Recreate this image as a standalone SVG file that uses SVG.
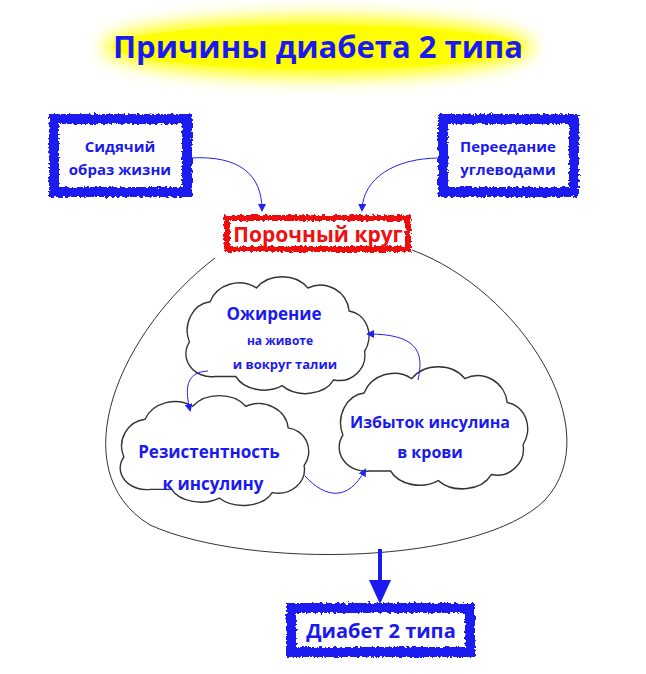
<svg xmlns="http://www.w3.org/2000/svg" width="646" height="674" viewBox="0 0 646 674">
<style>
.t{font-family:"Open Sans","Liberation Sans",sans-serif;font-weight:bold;text-anchor:middle}
.b{fill:#1a1af0}
.box{fill:#fff;stroke-width:10;filter:url(#rough)}
.cl{fill:#fff;stroke:#333;stroke-width:1.3}
.c{fill:none;stroke:#2222ee;stroke-width:1;marker-end:url(#ah)}
</style>
<defs>
<filter id="rough" x="-10%" y="-20%" width="120%" height="140%"><feTurbulence type="fractalNoise" baseFrequency="0.35" numOctaves="2" seed="3"/><feDisplacementMap in="SourceGraphic" scale="5"/></filter>
<filter id="glow" x="-20%" y="-60%" width="140%" height="220%"><feGaussianBlur stdDeviation="9"/></filter>
<marker id="ah" markerWidth="8" markerHeight="8" refX="6" refY="4" orient="auto" markerUnits="userSpaceOnUse"><path d="M0,0 L8,4 L0,8 z" fill="#2222ee"/></marker>
<path id="cloud" d="M-60,30 a25,20 0 0 1 -25,-30 a25,25 0 0 1 20,-35 a30,25 0 0 1 45,-12 a30,22 0 0 1 50,0 a28,25 0 0 1 40,20 a22,22 0 0 1 15,35 a25,22 0 0 1 -30,25 a30,20 0 0 1 -50,5 a30,20 0 0 1 -45,-8 z"/>
</defs>
<rect width="646" height="674" fill="#fff"/>
<g id="title">
<ellipse cx="318" cy="47" rx="215" ry="30" fill="#ffff00" filter="url(#glow)"/>
<ellipse cx="318" cy="47" rx="205" ry="22" fill="#ffff00"/>
<text class="t b" x="318" y="58" font-size="31">Причины диабета 2 типа</text>
</g>
<g id="loop"><path d="M215,258 C120,330 60,470 150,525 C250,570 480,565 545,500 C610,430 520,290 412,250" fill="none" stroke="#333" stroke-width="1"/></g>
<g id="sidyachiy"><rect class="box" x="54" y="119" width="133" height="73" stroke="#1a1af0"/>
<text class="t b" x="120" y="152" font-size="15">Сидячий</text><text class="t b" x="120" y="175" font-size="15">образ жизни</text></g>
<g id="pereedanie"><rect class="box" x="443" y="119" width="131" height="73" stroke="#1a1af0"/>
<text class="t b" x="508" y="152" font-size="15">Переедание</text><text class="t b" x="508" y="175" font-size="15">углеводами</text></g>
<g id="porochny"><rect x="227" y="218" width="181" height="31" fill="#fff" stroke="#ee1111" stroke-width="6" filter="url(#rough)"/>
<text class="t" x="318" y="242" font-size="21" fill="#ee1111">Порочный круг</text></g>
<g id="ozhirenie"><use href="#cloud" class="cl" transform="translate(277,342) scale(1.03,1.15)"/>
<text class="t b" x="274" y="320" font-size="17">Ожирение</text>
<text class="t b" x="280" y="345" font-size="12">на животе</text>
<text class="t b" x="285" y="369" font-size="13">и вокруг талии</text></g>
<g id="rezist"><use href="#cloud" class="cl" transform="translate(214,457) scale(1.06,1.08)"/>
<text class="t b" x="209" y="458" font-size="17">Резистентность</text>
<text class="t b" x="213" y="490" font-size="17">к инсулину</text></g>
<g id="izbytok"><use href="#cloud" class="cl" transform="translate(433,435) scale(1.06,1.2)"/>
<text class="t b" x="430" y="428" font-size="16">Избыток инсулина</text>
<text class="t b" x="430" y="458" font-size="16">в крови</text></g>
<g id="diabet"><rect class="box" x="291" y="608" width="179" height="44" stroke="#1a1af0"/>
<text class="t b" x="381" y="638" font-size="20">Диабет 2 типа</text></g>
<g id="connectors">
<path class="c" d="M190,158 C240,155 262,175 262,210"/>
<path class="c" d="M440,158 C395,158 363,178 362,210"/>
<path class="c" d="M418,380 C425,350 415,334 368,334"/>
<path class="c" d="M208,371 C185,372 185,390 190,410"/>
<path class="c" d="M305,476 C325,498 348,502 365,470"/>
<path d="M380,549 L380,584" stroke="#1a1af0" stroke-width="4" fill="none"/>
<path d="M369,580 L391,580 L380,604 z" fill="#1a1af0"/>
</g>
</svg>
